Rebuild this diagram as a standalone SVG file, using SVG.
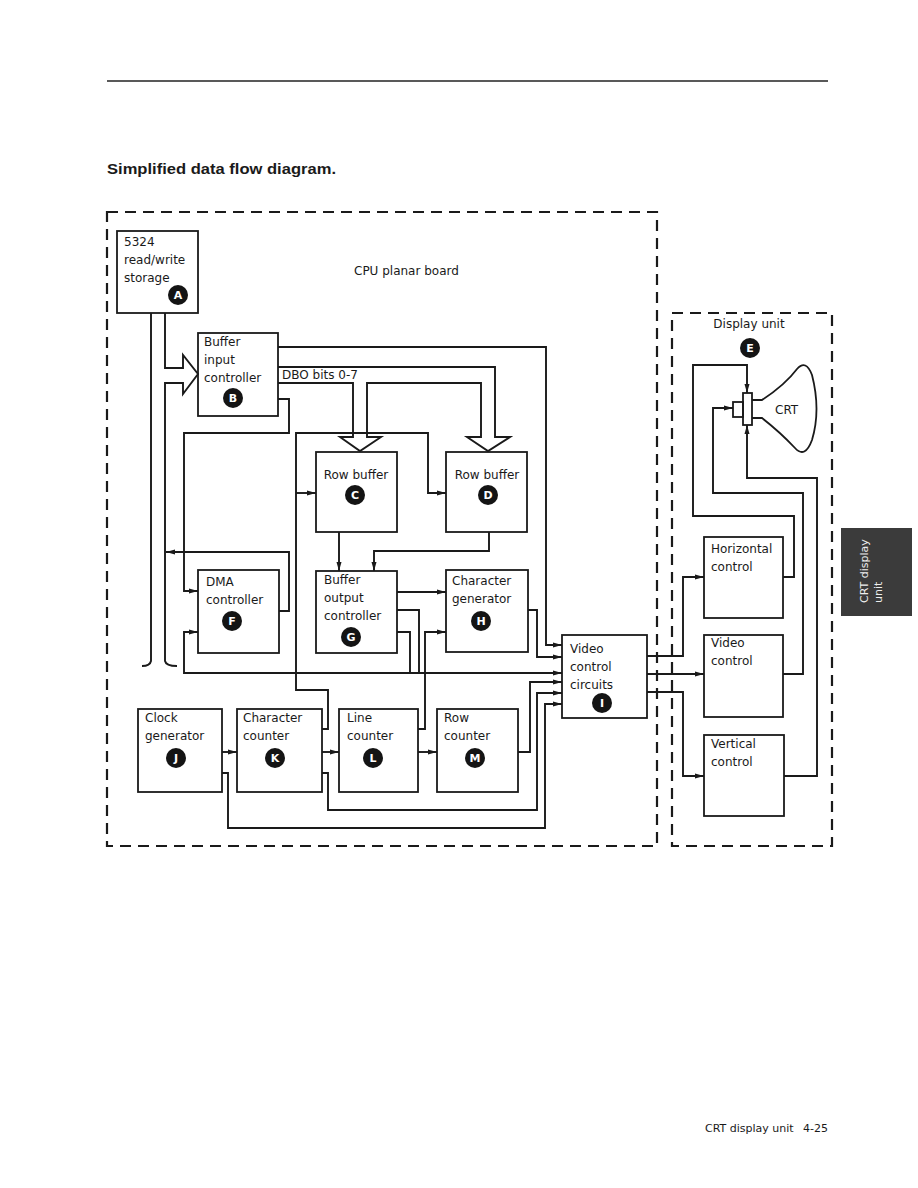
<svg xmlns="http://www.w3.org/2000/svg" width="918" height="1188" viewBox="0 0 918 1188">
<style>
.ln{fill:none;stroke:#1a1a1a;stroke-width:1.9}
.bx{fill:none;stroke:#1a1a1a;stroke-width:1.8}
.dash{fill:none;stroke:#1a1a1a;stroke-width:2.2;stroke-dasharray:11 7}
.t{font-family:"DejaVu Sans",sans-serif;font-size:12px;fill:#1a1a1a}
.c{text-anchor:middle}
.dot{fill:#141414}
.dl{font-family:"DejaVu Sans",sans-serif;font-weight:bold;font-size:11px;fill:#fff;text-anchor:middle}
</style>
<defs>
<marker id="ah" markerUnits="userSpaceOnUse" markerWidth="9" markerHeight="6" refX="9" refY="3" orient="auto">
<path d="M0,0.5 L9,3 L0,5.5 z" fill="#1a1a1a"/>
</marker>
</defs>
<rect width="918" height="1188" fill="#fff"/>
<line x1="107" y1="81" x2="828" y2="81" stroke="#222" stroke-width="1.3"/>
<text x="107" y="174" font-family="Liberation Sans,sans-serif" font-weight="bold" font-size="15.5" fill="#1a1a1a" textLength="229" lengthAdjust="spacingAndGlyphs">Simplified data flow diagram.</text>

<g id="cpu-board">
<rect class="dash" x="107" y="212" width="550" height="634"/>
<text class="t" x="354" y="275">CPU planar board</text>
</g>
<g id="display-unit">
<rect class="dash" x="672" y="313" width="160" height="533"/>
<text class="t c" x="749" y="328">Display unit</text>
<circle class="dot" cx="750" cy="348" r="10"/><text class="dl" x="750" y="352">E</text>
</g>

<g id="connectors">
<path class="ln" d="M151,313 V661 Q150,666 142,666"/>
<path class="ln" d="M165,313 V368 H183 V355 L198,374 L183,394 V383 H165 V661 Q166,666 177,666"/>
<path class="ln" d="M278,367 H495 V437 H510 L488,451 L467,437 H481 V383 H367 V437 H381 L360,451 L340,437 H353 V383 H278"/>
<path class="ln" marker-end="url(#ah)" d="M278,347 H546 V645 H562"/>
<path class="ln" marker-end="url(#ah)" d="M278,399 H289 V433 H184 V591 H198"/>
<path class="ln" marker-end="url(#ah)" d="M322,729 H328 V690 H296 V433 H428 V493 H446"/>
<path class="ln" marker-end="url(#ah)" d="M296,493 H316"/>
<path class="ln" marker-end="url(#ah)" d="M339,532 V571"/>
<path class="ln" marker-end="url(#ah)" d="M489,532 V551 H374 V571"/>
<path class="ln" marker-end="url(#ah)" d="M397,592 H446"/>
<path class="ln" d="M397,610 H419 V673"/>
<path class="ln" d="M397,632 H410 V673"/>
<path class="ln" marker-end="url(#ah)" d="M410,673 H184 V632 H198"/>
<path class="ln" marker-end="url(#ah)" d="M410,673 H562"/>
<path class="ln" marker-end="url(#ah)" d="M528,610 H537 V657 H562"/>
<path class="ln" marker-end="url(#ah)" d="M418,729 H425 V632 H446"/>
<path class="ln" marker-end="url(#ah)" d="M518,752 H530 V682 H562"/>
<path class="ln" marker-end="url(#ah)" d="M322,773 H328 V810 H537 V693 H562"/>
<path class="ln" marker-end="url(#ah)" d="M222,773 H228 V828 H545 V704 H562"/>
<path class="ln" marker-end="url(#ah)" d="M222,752 H237"/>
<path class="ln" marker-end="url(#ah)" d="M322,752 H339"/>
<path class="ln" marker-end="url(#ah)" d="M418,752 H437"/>
<path class="ln" marker-end="url(#ah)" d="M279,611 H289 V552 H166"/>
<path class="ln" marker-end="url(#ah)" d="M647,656 H683 V577 H704"/>
<path class="ln" marker-end="url(#ah)" d="M647,674 H704"/>
<path class="ln" marker-end="url(#ah)" d="M647,692 H683 V776 H704"/>
<path class="ln" marker-end="url(#ah)" d="M783,577 H794 V516 H693 V365 H747 V393"/>
<path class="ln" marker-end="url(#ah)" d="M783,674 H803 V493 H713 V408 H733"/>
<path class="ln" marker-end="url(#ah)" d="M784,776 H817 V478 H747 V425"/>
</g>

<g id="node-A">
<rect class="bx" x="117" y="231" width="81" height="82"/>
<text class="t" x="124" y="246">5324</text>
<text class="t" x="124" y="264">read/write</text>
<text class="t" x="124" y="282">storage</text>
<circle class="dot" cx="178" cy="295" r="10"/><text class="dl" x="178" y="299">A</text>
</g>
<g id="node-B">
<rect class="bx" x="198" y="333" width="80" height="83"/>
<text class="t" x="204" y="346">Buffer</text>
<text class="t" x="204" y="364">input</text>
<text class="t" x="204" y="382">controller</text>
<circle class="dot" cx="233" cy="398" r="10"/><text class="dl" x="233" y="402">B</text>
<text class="t" x="282" y="379">DBO bits 0-7</text>
</g>
<g id="node-C">
<rect class="bx" x="316" y="452" width="81" height="80"/>
<text class="t c" x="356" y="479">Row buffer</text>
<circle class="dot" cx="355" cy="495" r="10"/><text class="dl" x="355" y="499">C</text>
</g>
<g id="node-D">
<rect class="bx" x="446" y="452" width="81" height="80"/>
<text class="t c" x="487" y="479">Row buffer</text>
<circle class="dot" cx="488" cy="495" r="10"/><text class="dl" x="488" y="499">D</text>
</g>
<g id="node-F">
<rect class="bx" x="198" y="570" width="81" height="83"/>
<text class="t" x="206" y="586">DMA</text>
<text class="t" x="206" y="604">controller</text>
<circle class="dot" cx="232" cy="621" r="10"/><text class="dl" x="232" y="625">F</text>
</g>
<g id="node-G">
<rect class="bx" x="316" y="571" width="81" height="82"/>
<text class="t" x="324" y="584">Buffer</text>
<text class="t" x="324" y="602">output</text>
<text class="t" x="324" y="620">controller</text>
<circle class="dot" cx="351" cy="637" r="10"/><text class="dl" x="351" y="641">G</text>
</g>
<g id="node-H">
<rect class="bx" x="446" y="570" width="82" height="82"/>
<text class="t" x="452" y="585">Character</text>
<text class="t" x="452" y="603">generator</text>
<circle class="dot" cx="481" cy="621" r="10"/><text class="dl" x="481" y="625">H</text>
</g>
<g id="node-I">
<rect class="bx" x="562" y="635" width="85" height="83"/>
<text class="t" x="570" y="653">Video</text>
<text class="t" x="570" y="671">control</text>
<text class="t" x="570" y="689">circuits</text>
<circle class="dot" cx="602" cy="703" r="10"/><text class="dl" x="602" y="707">I</text>
</g>
<g id="node-J">
<rect class="bx" x="138" y="709" width="84" height="83"/>
<text class="t" x="145" y="722">Clock</text>
<text class="t" x="145" y="740">generator</text>
<circle class="dot" cx="176" cy="758" r="10"/><text class="dl" x="176" y="762">J</text>
</g>
<g id="node-K">
<rect class="bx" x="237" y="709" width="85" height="83"/>
<text class="t" x="243" y="722">Character</text>
<text class="t" x="243" y="740">counter</text>
<circle class="dot" cx="275" cy="758" r="10"/><text class="dl" x="275" y="762">K</text>
</g>
<g id="node-L">
<rect class="bx" x="339" y="709" width="79" height="83"/>
<text class="t" x="347" y="722">Line</text>
<text class="t" x="347" y="740">counter</text>
<circle class="dot" cx="373" cy="758" r="10"/><text class="dl" x="373" y="762">L</text>
</g>
<g id="node-M">
<rect class="bx" x="437" y="709" width="81" height="83"/>
<text class="t" x="444" y="722">Row</text>
<text class="t" x="444" y="740">counter</text>
<circle class="dot" cx="475" cy="758" r="10"/><text class="dl" x="475" y="762">M</text>
</g>
<g id="node-CRT">
<rect class="bx" x="743" y="393" width="9" height="32" fill="#fff"/>
<rect class="bx" x="733" y="402" width="10" height="15" fill="#fff"/>
<path class="bx" d="M752,400 H762 Q785,385 797,369 Q806,359 812,375 Q821,410 812,440 Q805,459 795,448 Q780,432 762,418 H752"/>
<text class="t" x="775" y="414">CRT</text>
</g>
<g id="node-horizontal">
<rect class="bx" x="704" y="537" width="79" height="81"/>
<text class="t" x="711" y="553">Horizontal</text>
<text class="t" x="711" y="571">control</text>
</g>
<g id="node-video">
<rect class="bx" x="704" y="635" width="79" height="82"/>
<text class="t" x="711" y="647">Video</text>
<text class="t" x="711" y="665">control</text>
</g>
<g id="node-vertical">
<rect class="bx" x="704" y="735" width="80" height="81"/>
<text class="t" x="711" y="748">Vertical</text>
<text class="t" x="711" y="766">control</text>
</g>

<g id="tab">
<rect x="841" y="528" width="71" height="88" fill="#3b3b3b"/>
<text transform="translate(868,603) rotate(-90)" font-family="DejaVu Sans,sans-serif" font-size="11" fill="#eee">CRT display</text>
<text transform="translate(882,603) rotate(-90)" font-family="DejaVu Sans,sans-serif" font-size="11" fill="#eee">unit</text>
</g>
<text x="705" y="1132" font-family="DejaVu Sans,sans-serif" font-size="11" fill="#1a1a1a">CRT display unit</text>
<text x="803" y="1132" font-family="DejaVu Sans,sans-serif" font-size="11" fill="#1a1a1a">4-25</text>
</svg>
